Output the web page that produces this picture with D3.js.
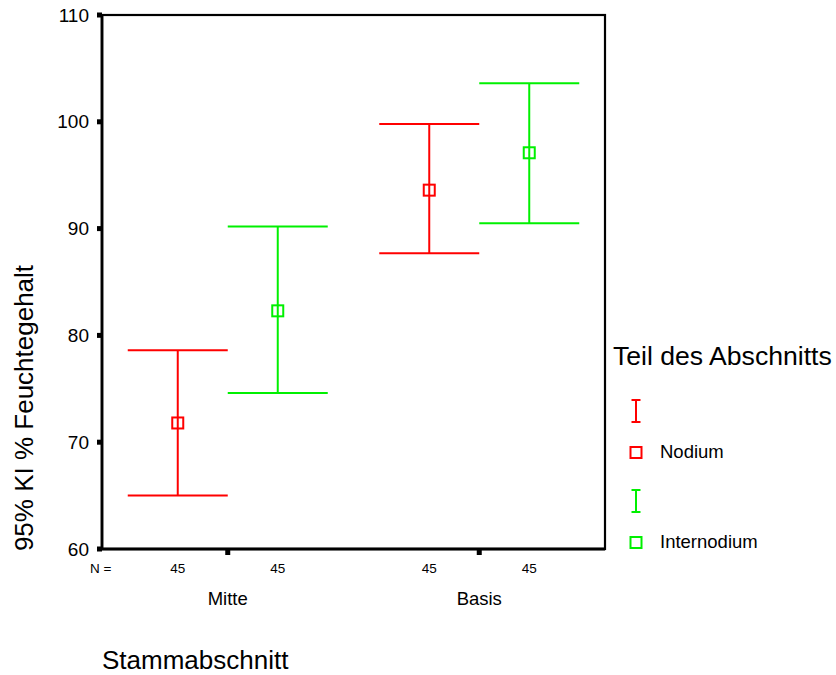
<!DOCTYPE html>
<html>
<head>
<meta charset="utf-8">
<script src="https://cdn.jsdelivr.net/npm/d3@7"></script>
<style>
  html, body { margin: 0; padding: 0; background: #fff; }
  svg { display: block; font-family: "Liberation Sans", Arial, sans-serif; }
</style>
</head>
<body>
<svg id="chart" width="836" height="675"></svg>
<script>
// Stem section groups along the x axis
const groups = ["Mitte", "Basis"];
// Part of the section (legend series)
const series = ["Nodium", "Internodium"];
const seriesColors = ["#ff0000", "#00f000"];
// Mean moisture content and 95% CI bounds, per series, in group order
const meanValues  = [[71.8, 93.6], [82.3, 97.1]];
const lowerValues = [[65.0, 87.7], [74.6, 90.5]];
const upperValues = [[78.6, 99.8], [90.2, 103.6]];
// Sample sizes per series, in group order
const nValues = [[45, 45], [45, 45]];
// Y axis ticks
const yTicks = [60, 70, 80, 90, 100, 110];

const svg = d3.select("#chart");
const plotL = 102, plotR = 605, plotT = 15, plotB = 549;

const y = d3.scaleLinear().domain([60, 110]).range([plotB, plotT]);
const xGroup = d3.scaleBand().domain(groups).range([plotL, plotR]).padding(0);
const xSeries = d3.scalePoint().domain(series).range([-50, 50]);
const color = d3.scaleOrdinal().domain(series).range(seriesColors);

const capHalf = 50;
const boxSize = 11;

// Flatten into one record per (group, series)
const records = [];
series.forEach((s, si) => {
  groups.forEach((g, gi) => {
    records.push({
      group: g, series: s,
      mean: meanValues[si][gi], lo: lowerValues[si][gi], hi: upperValues[si][gi],
      n: nValues[si][gi],
      x: xGroup(g) + xGroup.bandwidth() / 2 + xSeries(s)
    });
  });
});

// Plot frame
svg.append("rect")
  .attr("x", plotL).attr("y", plotT)
  .attr("width", plotR - plotL).attr("height", plotB - plotT)
  .attr("fill", "none").attr("stroke", "#000").attr("stroke-width", 2.2);
svg.append("line").attr("x1", plotL).attr("x2", plotL).attr("y1", plotT).attr("y2", plotB)
  .attr("stroke", "#000").attr("stroke-width", 2.8);
svg.append("line").attr("x1", plotL).attr("x2", plotR).attr("y1", plotB).attr("y2", plotB)
  .attr("stroke", "#000").attr("stroke-width", 2.8);

// Y axis labels via d3 axis, with square tick marks
const yAxis = svg.append("g")
  .attr("transform", `translate(${plotL},0)`)
  .call(d3.axisLeft(y).tickValues(yTicks).tickSize(0).tickPadding(13).tickFormat(d3.format("d")));
yAxis.select(".domain").remove();
yAxis.selectAll("text")
  .attr("font-size", 19).attr("fill", "#000")
  .attr("font-family", "Liberation Sans, Arial, sans-serif");
svg.selectAll("rect.ytick").data(yTicks).join("rect")
  .attr("class", "ytick")
  .attr("x", plotL - 5).attr("y", d => y(d) - 2.5)
  .attr("width", 5).attr("height", 5).attr("fill", "#000");

// X group tick marks between the series
svg.selectAll("rect.xtick").data(groups).join("rect")
  .attr("class", "xtick")
  .attr("x", d => xGroup(d) + xGroup.bandwidth() / 2 - 2.5).attr("y", plotB)
  .attr("width", 5).attr("height", 6).attr("fill", "#000");

// Group labels
svg.selectAll("text.group").data(groups).join("text")
  .attr("class", "group")
  .attr("x", d => xGroup(d) + xGroup.bandwidth() / 2).attr("y", 605)
  .attr("text-anchor", "middle").attr("font-size", 18.5).text(d => d);

// N labels
svg.append("text").attr("x", 90).attr("y", 573).attr("font-size", 13.5).text("N =");
svg.selectAll("text.n").data(records).join("text")
  .attr("class", "n")
  .attr("x", d => d.x).attr("y", 573)
  .attr("text-anchor", "middle").attr("font-size", 13.5).text(d => d.n);

// Error bars
const bars = svg.selectAll("g.bar").data(records).join("g").attr("class", "bar")
  .attr("stroke", d => color(d.series)).attr("stroke-width", 2).attr("fill", "none");
bars.append("line").attr("x1", d => d.x).attr("x2", d => d.x)
  .attr("y1", d => y(d.lo)).attr("y2", d => y(d.hi));
bars.append("line").attr("x1", d => d.x - capHalf).attr("x2", d => d.x + capHalf)
  .attr("y1", d => y(d.hi)).attr("y2", d => y(d.hi));
bars.append("line").attr("x1", d => d.x - capHalf).attr("x2", d => d.x + capHalf)
  .attr("y1", d => y(d.lo)).attr("y2", d => y(d.lo));
bars.append("rect")
  .attr("x", d => d.x - boxSize / 2).attr("y", d => y(d.mean) - boxSize / 2)
  .attr("width", boxSize).attr("height", boxSize).attr("fill", "#fff");
bars.append("line").attr("x1", d => d.x).attr("x2", d => d.x)
  .attr("y1", d => y(d.mean) - boxSize / 2).attr("y2", d => y(d.mean) + boxSize / 2);

// Axis titles
svg.append("text")
  .attr("transform", "translate(33,408) rotate(-90)")
  .attr("text-anchor", "middle").attr("font-size", 26)
  .text("95% KI % Feuchtegehalt");
svg.append("text").attr("x", 102).attr("y", 669).attr("font-size", 26).text("Stammabschnitt");

// Legend
svg.append("text").attr("x", 613).attr("y", 365).attr("font-size", 26.6).text("Teil des Abschnitts");
const legend = svg.selectAll("g.legend").data(series).join("g").attr("class", "legend")
  .attr("transform", (d, i) => `translate(636,${411 + i * 90})`);
legend.append("line").attr("x1", 0).attr("x2", 0).attr("y1", -11).attr("y2", 11)
  .attr("stroke", d => color(d)).attr("stroke-width", 2);
legend.append("line").attr("x1", -4.5).attr("x2", 4.5).attr("y1", -11).attr("y2", -11)
  .attr("stroke", d => color(d)).attr("stroke-width", 2);
legend.append("line").attr("x1", -4.5).attr("x2", 4.5).attr("y1", 11).attr("y2", 11)
  .attr("stroke", d => color(d)).attr("stroke-width", 2);
legend.append("rect").attr("x", -5.5).attr("y", 36).attr("width", 11).attr("height", 11)
  .attr("fill", "none").attr("stroke", d => color(d)).attr("stroke-width", 2);
legend.append("text").attr("x", 24).attr("y", 47).attr("font-size", 18.5).text(d => d);
</script>
</body>
</html>
